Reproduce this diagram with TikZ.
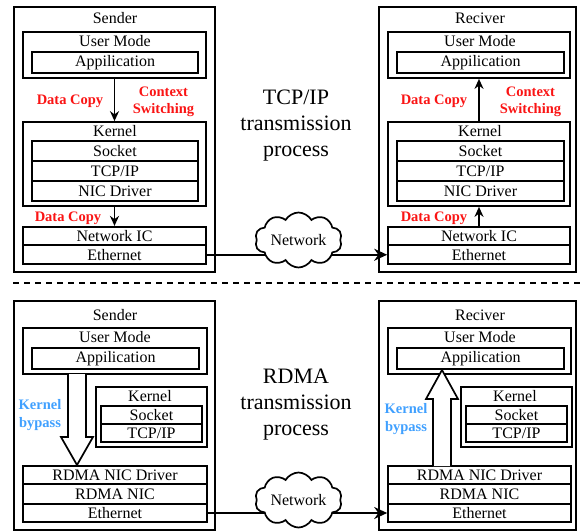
\documentclass[tikz,border=0pt]{standalone}
\usepackage{fontspec}
\setmainfont{Liberation Serif}
\usetikzlibrary{shapes.symbols,arrows.meta}
\definecolor{datared}{RGB}{250,20,20}
\definecolor{bypassblue}{RGB}{64,160,255}
\begin{document}
\begin{tikzpicture}[x=1pt,y=-1pt,
  box/.style={draw, line width=1.7pt, inner sep=0pt, font=\fontsize{16}{18}\selectfont},
  lbl/.style={inner sep=0pt, font=\fontsize{16}{18}\selectfont},
  redlbl/.style={inner sep=0pt, text=datared, align=center, font=\fontsize{14.5}{17}\selectfont\bfseries},
  bluelbl/.style={inner sep=0pt, text=bypassblue, align=center, font=\fontsize{14.5}{18}\selectfont\bfseries},
  bigtxt/.style={inner sep=0pt, align=center, font=\fontsize{22}{26}\selectfont},
  arr/.style={line width=1.7pt, -{Stealth[length=10pt,width=9pt]}},
  netarr/.style={line width=1.7pt, -{Stealth[length=13pt,width=12pt]}},
  netcloud/.style={cloud, draw, fill=white, line width=1.7pt, cloud puffs=10, cloud puff arc=120, cloud ignores aspect, minimum width=87, minimum height=55, inner sep=0pt},
  hollow/.style={draw, fill=white, line width=1.7pt, line join=miter}
]
\useasboundingbox (0,0) rectangle (581,531);

% ================= TOP: TCP/IP =================
% Sender
\node[box, minimum width=201, minimum height=265] (sT) at (114.5,139.5) {};
\node[lbl] (sTl) at (115,18.5) {Sender};
\node[box, minimum width=183, minimum height=46] (umT) at (114.5,55) {};
\node[lbl] (umTl) at (115,41.5) {User Mode};
\node[box, minimum width=166, minimum height=21] (appT) at (115,62.5) {Appilication};
\node[box, minimum width=183, minimum height=84] (kT) at (114.5,164) {};
\node[lbl] (kTl) at (115,131.5) {Kernel};
\node[box, minimum width=166, minimum height=20] (sockT) at (115,151) {Socket};
\node[box, minimum width=166, minimum height=20] (tcpT) at (115,171) {TCP/IP};
\node[box, minimum width=166, minimum height=20] (drvT) at (115,191) {NIC Driver};
\node[box, minimum width=183, minimum height=18.5] (nicT) at (114.5,236) {Network IC};
\node[box, minimum width=183, minimum height=19] (ethT) at (114.5,254.75) {Ethernet};
\draw[arr] (umT.south) -- (kT.north);
\draw[arr] (kT.south) -- (nicT.north);
\node[redlbl] (dc1) at (70,101.5) {Data Copy};
\node[redlbl] (cs1) at (163.5,101.5) {Context\\Switching};
\node[redlbl] (dc2) at (68,218.5) {Data Copy};

% Receiver
\node[box, minimum width=197, minimum height=265] (rT) at (477.5,139.5) {};
\node[lbl] (rTl) at (480,18.5) {Reciver};
\node[box, minimum width=182, minimum height=46] (umR) at (479,55) {};
\node[lbl] (umRl) at (480,41.5) {User Mode};
\node[box, minimum width=167, minimum height=21] (appR) at (480.5,62.5) {Appilication};
\node[box, minimum width=182, minimum height=84] (kR) at (479,164) {};
\node[lbl] (kRl) at (480,131.5) {Kernel};
\node[box, minimum width=167, minimum height=20] (sockR) at (480.5,151) {Socket};
\node[box, minimum width=167, minimum height=20] (tcpR) at (480.5,171) {TCP/IP};
\node[box, minimum width=167, minimum height=20] (drvR) at (480.5,191) {NIC Driver};
\node[box, minimum width=182, minimum height=18.5] (nicR) at (479,236) {Network IC};
\node[box, minimum width=182, minimum height=19] (ethR) at (479,254.75) {Ethernet};
\draw[arr] (kR.north) -- (umR.south);
\draw[arr] (nicR.north) -- (kR.south);
\node[redlbl] (dc3) at (434,101.5) {Data Copy};
\node[redlbl] (cs2) at (530.5,101.5) {Context\\Switching};
\node[redlbl] (dc4) at (434,218.5) {Data Copy};

% Network
\draw[netarr] (ethT.east) -- (ethR.west);
\node[netcloud] (netT) at (298.5,240) {};
\node[lbl] (netTl) at (netT.center) {Network};

\node[bigtxt] (titleT) at (296,125.5) {TCP/IP\\transmission\\process};

% separator
\coordinate (sepL) at (13,283);
\coordinate (sepR) at (581,283);
\draw[line width=1.7pt, dash pattern=on 6pt off 5pt] (sepL) -- (sepR);

% ================= BOTTOM: RDMA =================
% Sender
\node[box, minimum width=201, minimum height=229] (sB) at (114.5,415.5) {};
\node[lbl] (sBl) at (115,315) {Sender};
\node[box, minimum width=184, minimum height=46] (umB) at (115,351) {};
\node[lbl] (umBl) at (115,337.5) {User Mode};
\node[box, minimum width=167, minimum height=21] (appB) at (115.5,358.5) {Appilication};
\node[box, minimum width=111, minimum height=60] (kB) at (151.5,417) {};
\node[lbl] (kBl) at (150,396) {Kernel};
\node[box, minimum width=101, minimum height=18] (sockB) at (151.5,415) {Socket};
\node[box, minimum width=101, minimum height=18] (tcpB) at (151.5,433) {TCP/IP};
\node[box, minimum width=184, minimum height=18] (drvB) at (115,475) {RDMA NIC Driver};
\node[box, minimum width=184, minimum height=20] (rnicB) at (115,494) {RDMA NIC};
\node[box, minimum width=184, minimum height=18] (ethB) at (115,513) {Ethernet};
\draw[hollow] (68,374) -- (68,437) -- (61,437) -- (77,465) -- (93,437) -- (86,437) -- (86,374);
\node[bluelbl] (kb1) at (40,415.5) {Kernel\\bypass};

% Receiver
\node[box, minimum width=197, minimum height=229] (rB) at (477.5,415.5) {};
\node[lbl] (rBl) at (480,315) {Reciver};
\node[box, minimum width=183, minimum height=46] (umRB) at (479.5,351) {};
\node[lbl] (umRBl) at (480,337.5) {User Mode};
\node[box, minimum width=167, minimum height=21] (appRB) at (480.5,358.5) {Appilication};
\node[box, minimum width=111, minimum height=60] (kRB) at (516.5,417) {};
\node[lbl] (kRBl) at (515,396) {Kernel};
\node[box, minimum width=101, minimum height=18] (sockRB) at (516.5,415) {Socket};
\node[box, minimum width=101, minimum height=18] (tcpRB) at (516.5,433) {TCP/IP};
\node[box, minimum width=183, minimum height=18] (drvRB) at (479.5,475) {RDMA NIC Driver};
\node[box, minimum width=183, minimum height=20] (rnicRB) at (479.5,494) {RDMA NIC};
\node[box, minimum width=183, minimum height=18] (ethRB) at (479.5,513) {Ethernet};
\draw[hollow] (433,466) -- (433,399) -- (426,399) -- (442,370) -- (458,399) -- (451,399) -- (451,466);
\node[bluelbl] (kb2) at (406,419.5) {Kernel\\bypass};

% Network
\draw[netarr] (ethB.east) -- (ethRB.west);
\node[netcloud] (netB) at (298.5,500) {};
\node[lbl] (netBl) at (netB.center) {Network};

\node[bigtxt] (titleB) at (296,404.5) {RDMA\\transmission\\process};
\end{tikzpicture}
\end{document}
